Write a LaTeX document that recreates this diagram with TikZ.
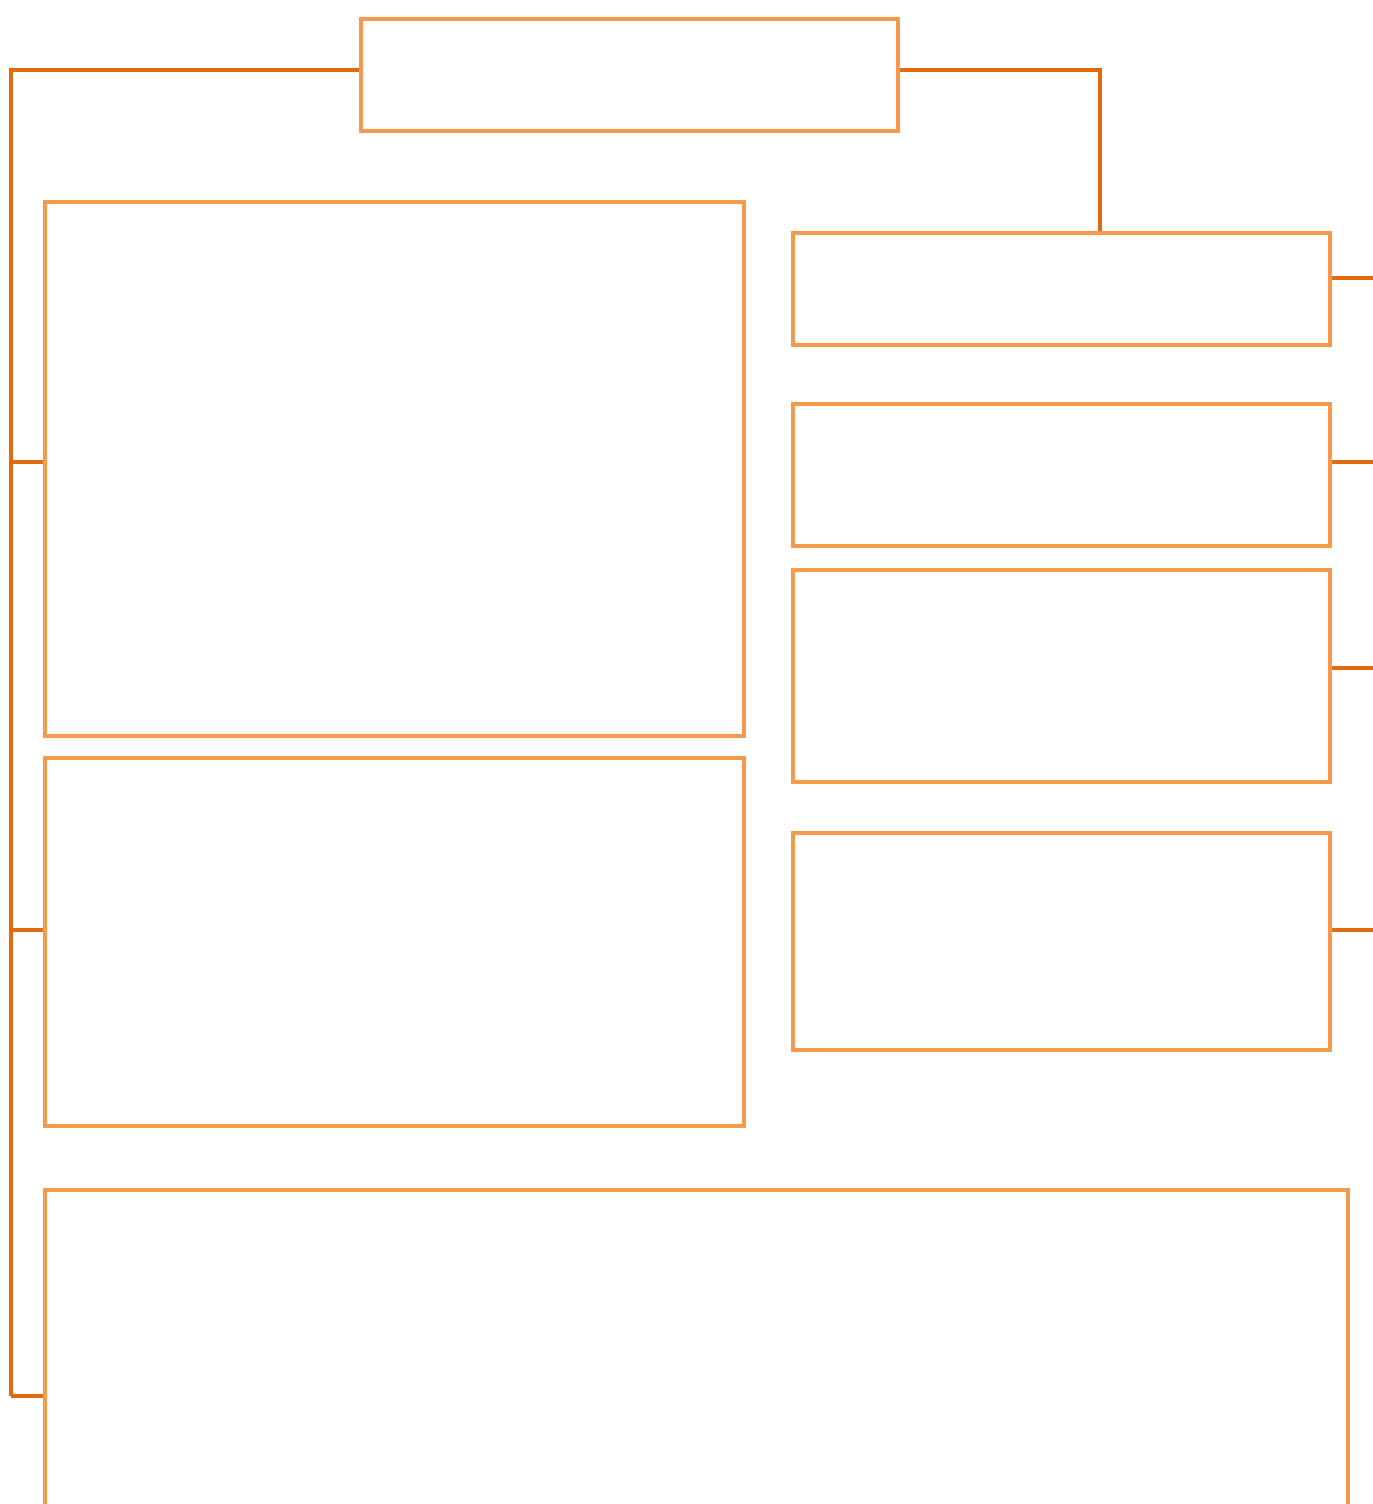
\documentclass[tikz,border=0pt]{standalone}
\definecolor{boxline}{HTML}{F7994A}
\definecolor{linkline}{HTML}{E06A0C}
\usepackage{tikz}
\usetikzlibrary{calc, positioning}

\begin{document}
\begin{tikzpicture}[
  box/.style={draw=boxline, line width=2.8pt, fill=white, inner sep=0pt},
  link/.style={draw=linkline, line width=1.8pt},
]
\useasboundingbox (0,0) rectangle (27.44,-30.08);

% Root
\node[box, minimum width=10.74cm, minimum height=2.24cm] (root) at (12.59,-1.5) {};

% Left column
\node[box, minimum width=13.98cm, minimum height=10.68cm] (left1) at (7.89,-9.38) {};
\node[box, minimum width=13.98cm, minimum height=7.36cm] (left2) at (7.89,-18.84) {};
\node[box, minimum width=26.06cm, minimum height=10.2cm] (bottom) at (13.93,-28.9) {};

% Right column
\node[box, minimum width=10.74cm, minimum height=2.24cm] (right1) at (21.23,-5.78) {};
\node[box, minimum width=10.74cm, minimum height=2.84cm] (right2) at (21.23,-9.5) {};
\node[box, minimum width=10.74cm, minimum height=4.24cm] (right3) at (21.23,-13.52) {};
\node[box, minimum width=10.74cm, minimum height=4.34cm] (right4) at (21.23,-18.83) {};

% Spine on the left
\coordinate (spine0) at (0.22,-1.4);
\coordinate (spine1) at (0.22,-9.24);
\coordinate (spine2) at (0.22,-18.6);
\coordinate (spine3) at (0.22,-27.92);
\draw[link] (spine0 -| root.west) -- (spine0) -- (spine3);
\draw[link] (spine1) -- (spine1 -| left1.west);
\draw[link] (spine2) -- (spine2 -| left2.west);
\draw[link] (spine3) -- (spine3 -| bottom.west);

% Root to right column
\coordinate (elbow) at (22.0,-1.4);
\draw[link] (elbow -| root.east) -- (elbow) -- (elbow |- right1.north);

% Outgoing stubs on the right
\coordinate (out1) at (27.6,-5.56);
\coordinate (out2) at (27.6,-9.24);
\coordinate (out3) at (27.6,-13.36);
\coordinate (out4) at (27.6,-18.6);
\draw[link] (out1 -| right1.east) -- (out1);
\draw[link] (out2 -| right2.east) -- (out2);
\draw[link] (out3 -| right3.east) -- (out3);
\draw[link] (out4 -| right4.east) -- (out4);
\end{tikzpicture}
\end{document}
